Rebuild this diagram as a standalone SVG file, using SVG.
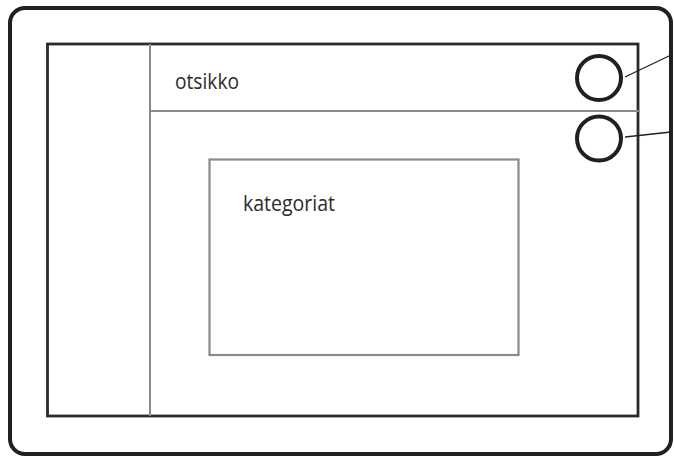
<svg xmlns="http://www.w3.org/2000/svg" width="674" height="457" viewBox="0 0 674 457">
<style>
.frame{fill:#fff;stroke:#231f20;stroke-width:4}
.panel{fill:none;stroke:#2b2b2b;stroke-width:2.8}
.div{fill:none;stroke:#8a8a8a;stroke-width:2}
.box{fill:#fff;stroke:#8a8a8a;stroke-width:2.2}
.btn{fill:#fff;stroke:#231f20;stroke-width:4}
.lbl{font-family:"Open Sans","Noto Sans","Liberation Sans",sans-serif;font-size:22px;fill:#2b2b2b}
.conn{fill:none;stroke:#231f20;stroke-width:1.3}
</style>
<g id="device"><rect class="frame" x="10" y="8" width="661" height="446" rx="15"/></g>
<g id="screen"><rect class="panel" x="47.5" y="44" width="590.5" height="372"/></g>
<g id="sidebar"><line class="div" x1="150" y1="44" x2="150" y2="416"/></g>
<g id="header">
<line class="div" x1="150" y1="111" x2="640" y2="111"/>
<text class="lbl" x="175" y="88.5" textLength="64" lengthAdjust="spacingAndGlyphs">otsikko</text>
</g>
<g id="kategoriat">
<rect class="box" x="209.5" y="159.5" width="309" height="195.5"/>
<text class="lbl" x="243" y="210.5" textLength="92" lengthAdjust="spacingAndGlyphs">kategoriat</text>
</g>
<g id="button1"><circle class="btn" cx="599" cy="78" r="22"/></g>
<g id="button2"><circle class="btn" cx="599" cy="138.5" r="22"/></g>
<g id="connectors">
<line class="conn" x1="625" y1="77" x2="671" y2="55"/>
<line class="conn" x1="625" y1="137" x2="671" y2="132"/>
</g>
</svg>
